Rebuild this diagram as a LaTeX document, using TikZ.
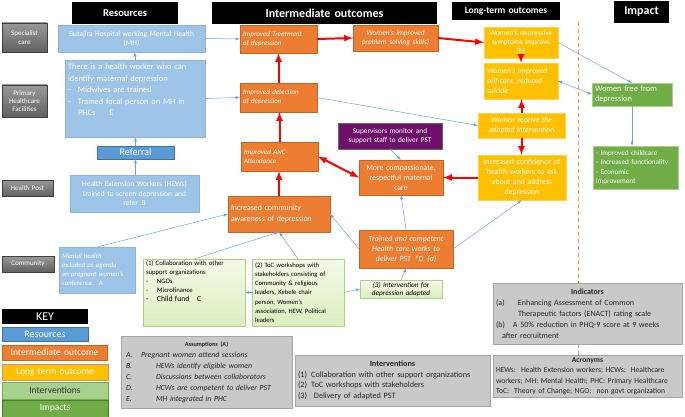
\documentclass[tikz,border=0pt]{standalone}
\usepackage{fontspec}
\setmainfont{Carlito}
\definecolor{resblue}{HTML}{9DC3E6}
\definecolor{resborder}{HTML}{8DB3DD}
\definecolor{refblue}{HTML}{5B9BD5}
\definecolor{refborder}{HTML}{41719C}
\definecolor{intorange}{HTML}{ED7D31}
\definecolor{intborder}{HTML}{C0652A}
\definecolor{longgold}{HTML}{FFC000}
\definecolor{longborder}{HTML}{FFD34D}
\definecolor{impgreen}{HTML}{70AD47}
\definecolor{impborder}{HTML}{A9D18E}
\definecolor{intvtop}{HTML}{F4FAE8}
\definecolor{intvbot}{HTML}{DCEEBF}
\definecolor{intvborder}{HTML}{A9D18E}
\definecolor{supviolet}{HTML}{6E0F6A}
\definecolor{infogray}{HTML}{C9C9C9}
\definecolor{infoborder}{HTML}{A5A5A5}
\definecolor{linkblue}{HTML}{6FA3D8}
\begin{document}
\begin{tikzpicture}
			[
			x=1pt, y=-1pt, >=latex,
			%Kastenarten
			tocbox/.style={anchor=north west, inner xsep=3pt, inner ysep=1pt, outer sep=0pt},
			headbox/.style={tocbox, fill=black, text=white, align=center},
			rowlabel/.style={tocbox, top color=black!40, bottom color=black!62, draw=black!75, text=white, align=center, font=\fontsize{7}{8.3}\selectfont},
			resbox/.style={tocbox, fill=resblue, draw=resborder, text=white},
			outbox/.style={tocbox, fill=intorange, draw=intborder, text=white},
			longbox/.style={tocbox, fill=longgold, draw=longborder, text=white},
			impbox/.style={tocbox, fill=impgreen, draw=impborder, text=white},
			intvbox/.style={tocbox, top color=intvtop, bottom color=intvbot, draw=intvborder, text=black},
			infobox/.style={tocbox, fill=infogray, draw=infoborder, text=black!85},
			keybox/.style={tocbox, align=center, font=\fontsize{9.5}{11}\selectfont},
			%Pfeile
			link/.style={->, draw=linkblue, line width=0.5pt},
			redlink/.style={->, draw=red, line width=2pt}
			]
			\useasboundingbox (0,0) rectangle (685,417);
			
			%Trennlinie
			\draw[intorange!85, line width=1pt, dash pattern=on 4pt off 3pt] (578,22) -- (578,355);
			
			%Ueberschriften
			\node[headbox, text width=100pt, minimum height=22pt, font=\fontsize{10.5}{12}\bfseries] (hRes) at (72,2) {Resources};
			\node[headbox, text width=219pt, minimum height=22pt, font=\fontsize{12}{14}\bfseries] (hInt) at (212,2) {Intermediate outcomes};
			\node[headbox, text width=102pt, minimum height=18pt, font=\fontsize{9.5}{11}\bfseries] (hLong) at (452,2) {Long-term outcomes};
			\node[headbox, text width=49pt, minimum height=22pt, font=\fontsize{12}{14}\bfseries] (hImp) at (614,1) {Impact};
			
			%Ebenen
			\node[rowlabel, text width=39pt, minimum height=29pt] (rSpec) at (2,23) {Specialist\\care};
			\node[rowlabel, text width=39pt, minimum height=32pt] (rPrim) at (2,85) {Primary\\Healthcare\\Facilities};
			\node[rowlabel, text width=45pt, minimum height=16pt] (rHP) at (2,180) {Health Post};
			\node[rowlabel, text width=46pt, minimum height=16pt] (rCom) at (2,256) {Community};
			
			%Ressourcen
			\node[resbox, text width=141pt, minimum height=27pt, align=center, font=\fontsize{7.5}{9}\selectfont] (butajira) at (58,25) {Butajira Hospital working Mental Health\\(MH)};
			\node[resbox, text width=134pt, minimum height=77pt, align=left, font=\fontsize{8.4}{11.5}\selectfont] (hwbox) at (65,60) {There is a health worker who can\\identify maternal depression\\\makebox[10pt][l]{-}Midwives are trained\\\makebox[10pt][l]{-}Trained focal person on MH in\\\hspace*{10pt}PHCs\hspace{14pt}E\\[6pt]\mbox{}};
			\node[tocbox, fill=refblue, draw=refborder, text=white, text width=71pt, minimum height=13pt, inner ysep=0pt, align=center, font=\fontsize{10}{11}\selectfont] (referral) at (97,146) {Referral};
			\node[resbox, text width=123pt, minimum height=37pt, align=center, font=\fontsize{7.5}{9.5}\selectfont] (hews) at (70,175) {Health Extension Workers (HEWs)\\trained to screen depression and\\refer\enspace B};
			\node[resbox, text width=70pt, minimum height=46pt, align=left, font=\fontsize{6.8}{9}\itshape] (mhcom) at (59,247) {Mental health\\included as agenda\\on pregnant women's\\conference\quad A};
			
			%Zwischenergebnisse
			\node[outbox, text width=71pt, minimum height=28pt, align=left, font=\fontsize{7}{9}\itshape] (treat) at (240,25) {Improved Treatment\\of depression};
			\node[outbox, text width=79pt, minimum height=26pt, align=center, font=\fontsize{7.4}{9.5}\itshape] (solve) at (353,25) {Women's improved\\problem solving skills)};
			\node[outbox, text width=71pt, minimum height=29pt, align=left, font=\fontsize{7}{9}\itshape] (detect) at (240,83) {Improved detection\\of depression};
			\node[outbox, text width=71pt, minimum height=29pt, align=left, font=\fontsize{7}{9}\itshape] (anc) at (241,142) {Improved ANC\\Attendance};
			\node[outbox, text width=96pt, minimum height=36pt, align=left, font=\fontsize{7.9}{10.5}\selectfont] (aware) at (228,196) {Increased community\\awareness of depression};
			\node[outbox, text width=78pt, minimum height=35pt, align=center, font=\fontsize{7.8}{10}\selectfont] (care) at (359,160) {More compassionate,\\respectful maternal\\care};
			\node[tocbox, fill=supviolet, draw=black!60, text=white, text width=98pt, minimum height=26pt, align=center, font=\fontsize{7.3}{9.3}\selectfont] (superv) at (338,123) {Supervisors monitor and\\support staff to deliver PST};
			\node[outbox, text width=88pt, minimum height=38pt, align=center, font=\fontsize{7.8}{10}\itshape] (trained) at (359,230) {Trained and competent\\Health care works to\\deliver PST\enspace *D\enspace (a)};
			
			%Langfristige Ergebnisse
			\node[longbox, text width=68pt, minimum height=31pt, align=center, font=\fontsize{7.4}{8.8}\selectfont] (sympt) at (484,27) {Women's depressive\\symptoms improve\\(b)};
			\node[longbox, text width=68pt, minimum height=36pt, align=left, font=\fontsize{7.6}{9.7}\itshape] (self) at (484,63) {Women's Improved\\self-care, reduced\\suicide};
			\node[longbox, text width=81pt, minimum height=25pt, align=center, font=\fontsize{7.6}{9.5}\itshape] (recv) at (478,113) {Women receive the\\adapted intervention};
			\node[longbox, text width=82pt, minimum height=45pt, align=center, font=\fontsize{7.8}{10}\selectfont] (conf) at (478,155) {Increased confidence of\\health workers to ask\\about and address\\depression};
			
			%Wirkung
			\node[impbox, text width=74pt, minimum height=23pt, align=left, font=\fontsize{8.3}{10}\selectfont] (free) at (592,83) {Women free from\\depression};
			\node[impbox, text width=79pt, minimum height=43pt, align=left, font=\fontsize{7.2}{9.5}\selectfont] (benef) at (593,146) {- Improved childcare\\- Increased functionality\\- Economic\\improvement};
			
			%Interventionen
			\node[intvbox, text width=96pt, minimum height=67pt, align=left, font=\fontsize{6.7}{9}\selectfont] (collab) at (143,259) {(1) Collaboration with other\\support organizations\\\makebox[11pt][l]{-}NGOs\\\makebox[11pt][l]{-}Microfinance\\{\fontsize{7.7}{9}\selectfont\makebox[11pt][l]{-}Child fund\quad C}\\[14pt]\mbox{}};
			\node[intvbox, text width=86pt, minimum height=67pt, align=left, font=\fontsize{6.6}{9.2}\selectfont] (wshop) at (252,259) {(2) ToC workshops with\\stakeholders consisting of\\Community \& religious\\leaders, Kebele chair\\person, Women's\\association, HEW, Political\\leaders};
			\node[intvbox, text width=76pt, minimum height=18pt, inner ysep=0.5pt, align=center, font=\fontsize{7.2}{8}\itshape] (adapted) at (360,280) {(3) Intervention for\\depression adapted};
			
			%Annahmen, Indikatoren, Abkuerzungen
			\node[infobox, inner xsep=5pt, text width=161pt, minimum height=72pt, align=left, font=\fontsize{7.8}{11}\itshape] (assum) at (121,336) {\makebox[\hsize]{\fontsize{6.2}{8}\upshape\bfseries Assumptions (A)}\\\makebox[15pt][l]{A.}Pregnant women attend sessions\\\makebox[30pt][l]{B.}HEWs identify eligible women\\\makebox[30pt][l]{C.}Discussions between collaborators\\\makebox[30pt][l]{D.}HCWs are competent to deliver PST\\\makebox[30pt][l]{E.}MH integrated in PHC};
			\node[infobox, text width=189pt, minimum height=51pt, align=left, font=\fontsize{8.2}{10.5}\selectfont] (intv) at (295,355) {\makebox[\hsize]{\bfseries Interventions}\\(1)\enspace Collaboration with other support organizations\\(2)\enspace ToC workshops with stakeholders\\(3)\enspace\ Delivery of adapted PST};
			\node[infobox, text width=183pt, minimum height=61pt, align=left, font=\fontsize{8}{11}\selectfont] (indic) at (493,283) {\makebox[\hsize]{\bfseries Indicators}\\\makebox[22pt][l]{(a)}Enhancing Assessment of Common\\\hspace*{22pt}Therapeutic factors (ENACT) rating scale\\\makebox[17pt][l]{(b)}A 50\% reduction in PHQ-9 score at 9 weeks\\\hspace*{6pt}after recruitment};
			\node[infobox, text width=183pt, minimum height=42pt, align=left, font=\fontsize{7.6}{10.5}\selectfont] (acro) at (493,355) {\makebox[\hsize]{\bfseries Acronyms}\\HEWs:\ \ Health Extension workers; HCWs:\ \ Healthcare\\workers; MH: Mental Health; PHC: Primary Healthcare\\ToC:\ \ Theory of Change; NGO:\ \ non govt organization};
			
			%Legende
			\node[keybox, fill=black, text=white, text width=80pt, minimum height=15pt, inner ysep=0pt, font=\fontsize{12}{13}\selectfont] (kKey) at (2,309) {KEY};
			\node[keybox, fill=refblue, draw=refborder, text=white, text width=80pt, minimum height=14pt, inner ysep=0pt, font=\fontsize{10}{11}\selectfont] (kRes) at (2,327) {Resources};
			\node[keybox, fill=intorange, draw=intborder, text=white, text width=99pt, minimum height=15pt] (kInt) at (2,345) {Intermediate outcome};
			\node[keybox, fill=longgold, draw=intborder!70, text=white, text width=100pt, minimum height=16pt] (kLong) at (2,364) {Long term outcome};
			\node[keybox, fill=impborder, draw=impgreen, text=black!80, text width=100pt, minimum height=17pt] (kIntv) at (2,382) {Interventions};
			\node[keybox, fill=impgreen, draw=impgreen!70!black, text=white, text width=100pt, minimum height=17pt] (kImp) at (2,400) {Impacts};
			
			%Verbindungen Ressourcen
			\draw[link] (butajira.east) -- (treat.west);
			\draw[link] (hwbox.east) -- (detect.west);
			\draw[link] (hwbox.north) -- (hwbox.north |- butajira.south);
			\draw[link] (referral.north) -- (referral.north |- hwbox.south);
			\draw[link] (referral.south |- hews.north) -- (referral.south);
			\draw[link] (mhcom.north) -- (aware.west);
			
			%Verbindungen Interventionen
			\draw[link] (collab.north) -- (aware.south);
			\draw[link] (wshop.north) -- (aware.south);
			\draw[link] (wshop.west) -- (collab.east);
			\draw[link] (wshop.east) -- (adapted.west);
			\draw[link] (adapted.north) -- (trained.south);
			\draw[link] (trained.north) -- (care.south);
			\draw[link] (trained.west) -- (aware.east);
			\draw[link] (trained.east) -- (conf.south);
			\draw[link] (superv.south) -- (care.north);
			\draw[link] (detect.east) -- (recv.west);
			\draw[link] (sympt.east) -- (free.north);
			\draw[link, <->] (self.east) -- (free.west);
			\draw[link] (free.south) -- (free.south |- benef.north);
			
			%Hauptpfad
			\draw[redlink] (treat.east) -- (solve.west);
			\draw[redlink] (solve.east) -- (sympt.west);
			\draw[redlink] (sympt.south) -- (self.north);
			\draw[redlink] (recv.north) -- (recv.north |- self.south);
			\draw[redlink] (recv.south) -- (recv.south |- conf.north);
			\draw[redlink] (conf.west) -- (care.east);
			\draw[redlink, <->] (care.west) -- (anc.east);
			\draw[redlink] (aware.north) -- (aware.north |- anc.south);
			\draw[redlink] (anc.north) -- (anc.north |- detect.south);
			\draw[redlink] (detect.north) -- (detect.north |- treat.south);
		\end{tikzpicture}
\end{document}
